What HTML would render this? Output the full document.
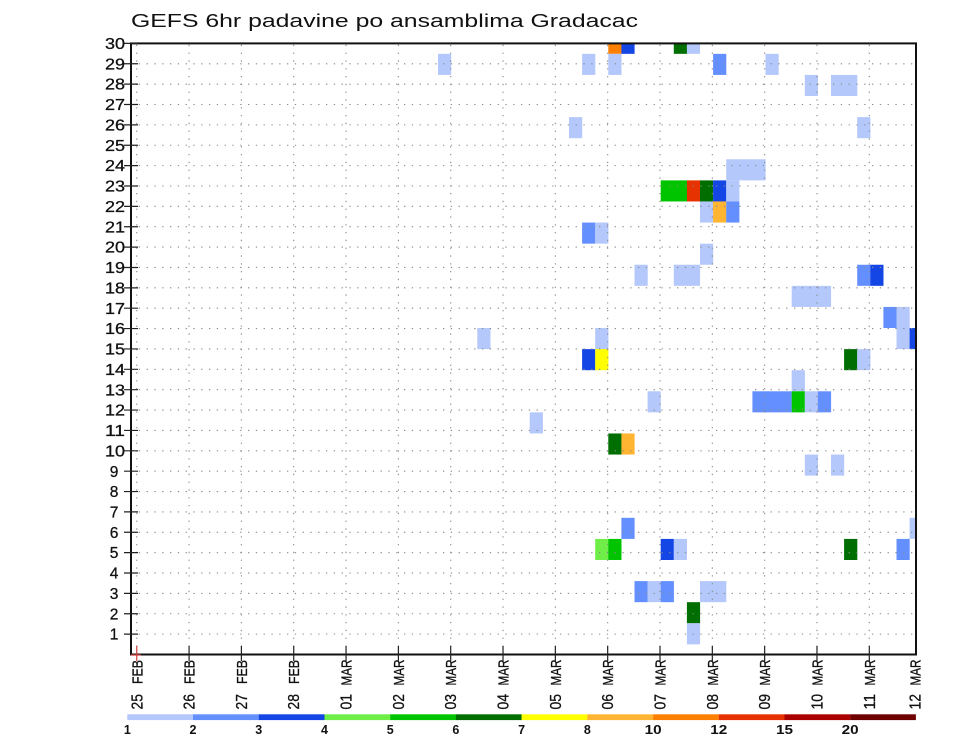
<!DOCTYPE html>
<html><head><meta charset="utf-8"><style>
html,body{margin:0;padding:0;background:#fff;}
svg{display:block;}
text{font-family:"Liberation Sans",sans-serif;fill:#111;}
</style></head><body>
<svg width="960" height="742" viewBox="0 0 960 742" xmlns="http://www.w3.org/2000/svg">
<rect width="960" height="742" fill="#fff"/>
<text x="131" y="27" font-size="18" textLength="507" lengthAdjust="spacingAndGlyphs">GEFS 6hr padavine po ansamblima Gradacac</text>
<defs><clipPath id="pa"><rect x="131" y="43.4" width="785" height="611.1"/></clipPath></defs>
<g clip-path="url(#pa)">
<rect x="608.3" y="32.75" width="13.2" height="21.09" fill="#ff8000"/>
<rect x="621.4" y="32.75" width="13.2" height="21.09" fill="#1446e6"/>
<rect x="673.8" y="32.75" width="13.2" height="21.09" fill="#006e00"/>
<rect x="686.9" y="32.75" width="13.2" height="21.09" fill="#b4c8fc"/>
<rect x="438.0" y="53.84" width="13.2" height="21.09" fill="#b4c8fc"/>
<rect x="582.1" y="53.84" width="13.2" height="21.09" fill="#b4c8fc"/>
<rect x="608.3" y="53.84" width="13.2" height="21.09" fill="#b4c8fc"/>
<rect x="713.1" y="53.84" width="13.2" height="21.09" fill="#6490ff"/>
<rect x="765.5" y="53.84" width="13.2" height="21.09" fill="#b4c8fc"/>
<rect x="804.8" y="74.93" width="13.2" height="21.09" fill="#b4c8fc"/>
<rect x="831.0" y="74.93" width="26.3" height="21.09" fill="#b4c8fc"/>
<rect x="569.0" y="117.11" width="13.2" height="21.09" fill="#b4c8fc"/>
<rect x="857.2" y="117.11" width="13.2" height="21.09" fill="#b4c8fc"/>
<rect x="726.2" y="159.29" width="39.4" height="21.09" fill="#b4c8fc"/>
<rect x="660.7" y="180.38" width="26.3" height="21.09" fill="#00c400"/>
<rect x="686.9" y="180.38" width="13.2" height="21.09" fill="#e63200"/>
<rect x="700.0" y="180.38" width="13.2" height="21.09" fill="#006e00"/>
<rect x="713.1" y="180.38" width="13.2" height="21.09" fill="#1446e6"/>
<rect x="726.2" y="180.38" width="13.2" height="21.09" fill="#b4c8fc"/>
<rect x="700.0" y="201.47" width="13.2" height="21.09" fill="#b4c8fc"/>
<rect x="713.1" y="201.47" width="13.2" height="21.09" fill="#ffb432"/>
<rect x="726.2" y="201.47" width="13.2" height="21.09" fill="#6490ff"/>
<rect x="582.1" y="222.56" width="13.2" height="21.09" fill="#6490ff"/>
<rect x="595.2" y="222.56" width="13.2" height="21.09" fill="#b4c8fc"/>
<rect x="700.0" y="243.65" width="13.2" height="21.09" fill="#b4c8fc"/>
<rect x="634.5" y="264.74" width="13.2" height="21.09" fill="#b4c8fc"/>
<rect x="673.8" y="264.74" width="26.3" height="21.09" fill="#b4c8fc"/>
<rect x="857.2" y="264.74" width="13.2" height="21.09" fill="#6490ff"/>
<rect x="870.3" y="264.74" width="13.2" height="21.09" fill="#1446e6"/>
<rect x="791.7" y="285.83" width="39.4" height="21.09" fill="#b4c8fc"/>
<rect x="883.4" y="306.92" width="13.2" height="21.09" fill="#6490ff"/>
<rect x="896.5" y="306.92" width="13.2" height="21.09" fill="#b4c8fc"/>
<rect x="477.3" y="328.01" width="13.2" height="21.09" fill="#b4c8fc"/>
<rect x="595.2" y="328.01" width="13.2" height="21.09" fill="#b4c8fc"/>
<rect x="896.5" y="328.01" width="13.2" height="21.09" fill="#b4c8fc"/>
<rect x="909.6" y="328.01" width="13.2" height="21.09" fill="#1446e6"/>
<rect x="582.1" y="349.1" width="13.2" height="21.09" fill="#1446e6"/>
<rect x="595.2" y="349.1" width="13.2" height="21.09" fill="#ffff00"/>
<rect x="844.1" y="349.1" width="13.2" height="21.09" fill="#006e00"/>
<rect x="857.2" y="349.1" width="13.2" height="21.09" fill="#b4c8fc"/>
<rect x="791.7" y="370.19" width="13.2" height="21.09" fill="#b4c8fc"/>
<rect x="647.6" y="391.28" width="13.2" height="21.09" fill="#b4c8fc"/>
<rect x="752.4" y="391.28" width="39.4" height="21.09" fill="#6490ff"/>
<rect x="791.7" y="391.28" width="13.2" height="21.09" fill="#00c400"/>
<rect x="804.8" y="391.28" width="13.2" height="21.09" fill="#b4c8fc"/>
<rect x="817.9" y="391.28" width="13.2" height="21.09" fill="#6490ff"/>
<rect x="529.7" y="412.37" width="13.2" height="21.09" fill="#b4c8fc"/>
<rect x="608.3" y="433.46" width="13.2" height="21.09" fill="#006e00"/>
<rect x="621.4" y="433.46" width="13.2" height="21.09" fill="#ffb432"/>
<rect x="804.8" y="454.55" width="13.2" height="21.09" fill="#b4c8fc"/>
<rect x="831.0" y="454.55" width="13.2" height="21.09" fill="#b4c8fc"/>
<rect x="621.4" y="517.82" width="13.2" height="21.09" fill="#6490ff"/>
<rect x="909.6" y="517.82" width="13.2" height="21.09" fill="#b4c8fc"/>
<rect x="595.2" y="538.91" width="13.2" height="21.09" fill="#6eee46"/>
<rect x="608.3" y="538.91" width="13.2" height="21.09" fill="#00c400"/>
<rect x="660.7" y="538.91" width="13.2" height="21.09" fill="#1446e6"/>
<rect x="673.8" y="538.91" width="13.2" height="21.09" fill="#b4c8fc"/>
<rect x="844.1" y="538.91" width="13.2" height="21.09" fill="#006e00"/>
<rect x="896.5" y="538.91" width="13.2" height="21.09" fill="#6490ff"/>
<rect x="634.5" y="581.09" width="13.2" height="21.09" fill="#6490ff"/>
<rect x="647.6" y="581.09" width="13.2" height="21.09" fill="#b4c8fc"/>
<rect x="660.7" y="581.09" width="13.2" height="21.09" fill="#6490ff"/>
<rect x="700.0" y="581.09" width="26.3" height="21.09" fill="#b4c8fc"/>
<rect x="686.9" y="602.18" width="13.2" height="21.09" fill="#006e00"/>
<rect x="686.9" y="623.27" width="13.2" height="21.09" fill="#b4c8fc"/>
</g>
<g stroke="#8a8a8a" stroke-width="1.1" stroke-dasharray="1.3 6.5" fill="none">
<path d="M131 634.13H916M131 613.76H916M131 593.39H916M131 573.02H916M131 552.65H916M131 532.28H916M131 511.91H916M131 491.54H916M131 471.17H916M131 450.8H916M131 430.43H916M131 410.06H916M131 389.69H916M131 369.32H916M131 348.95H916M131 328.58H916M131 308.21H916M131 287.84H916M131 267.47H916M131 247.1H916M131 226.73H916M131 206.36H916M131 185.99H916M131 165.62H916M131 145.25H916M131 124.88H916M131 104.51H916M131 84.14H916M131 63.77H916"/>
<path d="M136.75 654.5V43.4M189.08 654.5V43.4M241.4 654.5V43.4M293.73 654.5V43.4M346.05 654.5V43.4M398.38 654.5V43.4M450.7 654.5V43.4M503.03 654.5V43.4M555.35 654.5V43.4M607.68 654.5V43.4M660 654.5V43.4M712.33 654.5V43.4M764.65 654.5V43.4M816.98 654.5V43.4M869.3 654.5V43.4"/>
</g>
<rect x="131" y="43.4" width="785" height="611.1" fill="none" stroke="#111" stroke-width="2"/>
<g stroke="#222" stroke-width="1.2">
<path d="M124 634.13H138M124 613.76H138M124 593.39H138M124 573.02H138M124 552.65H138M124 532.28H138M124 511.91H138M124 491.54H138M124 471.17H138M124 450.8H138M124 430.43H138M124 410.06H138M124 389.69H138M124 369.32H138M124 348.95H138M124 328.58H138M124 308.21H138M124 287.84H138M124 267.47H138M124 247.1H138M124 226.73H138M124 206.36H138M124 185.99H138M124 165.62H138M124 145.25H138M124 124.88H138M124 104.51H138M124 84.14H138M124 63.77H138M124 43.4H138"/>
<path d="M189.08 646V661M241.4 646V661M293.73 646V661M346.05 646V661M398.38 646V661M450.7 646V661M503.03 646V661M555.35 646V661M607.68 646V661M660 646V661M712.33 646V661M764.65 646V661M816.98 646V661M869.3 646V661"/>
</g>
<path d="M136.75 646V661M131 655H141" stroke="#d04040" stroke-width="1.2"/>
<g font-size="15.5" text-anchor="middle" stroke="#111" stroke-width="0.3">
<text x="114" y="639.7">1</text>
<text x="114" y="619.3">2</text>
<text x="114" y="599">3</text>
<text x="114" y="578.6">4</text>
<text x="114" y="558.2">5</text>
<text x="114" y="537.9">6</text>
<text x="114" y="517.5">7</text>
<text x="114" y="497.1">8</text>
<text x="114" y="476.8">9</text>
<text x="115" y="456.4" textLength="20" lengthAdjust="spacingAndGlyphs">10</text>
<text x="115" y="436" textLength="20" lengthAdjust="spacingAndGlyphs">11</text>
<text x="115" y="415.7" textLength="20" lengthAdjust="spacingAndGlyphs">12</text>
<text x="115" y="395.3" textLength="20" lengthAdjust="spacingAndGlyphs">13</text>
<text x="115" y="374.9" textLength="20" lengthAdjust="spacingAndGlyphs">14</text>
<text x="115" y="354.5" textLength="20" lengthAdjust="spacingAndGlyphs">15</text>
<text x="115" y="334.2" textLength="20" lengthAdjust="spacingAndGlyphs">16</text>
<text x="115" y="313.8" textLength="20" lengthAdjust="spacingAndGlyphs">17</text>
<text x="115" y="293.4" textLength="20" lengthAdjust="spacingAndGlyphs">18</text>
<text x="115" y="273.1" textLength="20" lengthAdjust="spacingAndGlyphs">19</text>
<text x="115" y="252.7" textLength="20" lengthAdjust="spacingAndGlyphs">20</text>
<text x="115" y="232.3" textLength="20" lengthAdjust="spacingAndGlyphs">21</text>
<text x="115" y="212" textLength="20" lengthAdjust="spacingAndGlyphs">22</text>
<text x="115" y="191.6" textLength="20" lengthAdjust="spacingAndGlyphs">23</text>
<text x="115" y="171.2" textLength="20" lengthAdjust="spacingAndGlyphs">24</text>
<text x="115" y="150.9" textLength="20" lengthAdjust="spacingAndGlyphs">25</text>
<text x="115" y="130.5" textLength="20" lengthAdjust="spacingAndGlyphs">26</text>
<text x="115" y="110.1" textLength="20" lengthAdjust="spacingAndGlyphs">27</text>
<text x="115" y="89.7" textLength="20" lengthAdjust="spacingAndGlyphs">28</text>
<text x="115" y="69.4" textLength="20" lengthAdjust="spacingAndGlyphs">29</text>
<text x="115" y="49" textLength="20" lengthAdjust="spacingAndGlyphs">30</text>
</g>
<g font-size="15.5" stroke="#111" stroke-width="0.3">
<text transform="translate(142.3,709.5) rotate(-90)" textLength="15.5" lengthAdjust="spacingAndGlyphs">25</text>
<text transform="translate(194.6,709.5) rotate(-90)" textLength="15.5" lengthAdjust="spacingAndGlyphs">26</text>
<text transform="translate(246.9,709.5) rotate(-90)" textLength="15.5" lengthAdjust="spacingAndGlyphs">27</text>
<text transform="translate(299.2,709.5) rotate(-90)" textLength="15.5" lengthAdjust="spacingAndGlyphs">28</text>
<text transform="translate(351.6,709.5) rotate(-90)" textLength="15.5" lengthAdjust="spacingAndGlyphs">01</text>
<text transform="translate(403.9,709.5) rotate(-90)" textLength="15.5" lengthAdjust="spacingAndGlyphs">02</text>
<text transform="translate(456.2,709.5) rotate(-90)" textLength="15.5" lengthAdjust="spacingAndGlyphs">03</text>
<text transform="translate(508.5,709.5) rotate(-90)" textLength="15.5" lengthAdjust="spacingAndGlyphs">04</text>
<text transform="translate(560.9,709.5) rotate(-90)" textLength="15.5" lengthAdjust="spacingAndGlyphs">05</text>
<text transform="translate(613.2,709.5) rotate(-90)" textLength="15.5" lengthAdjust="spacingAndGlyphs">06</text>
<text transform="translate(665.5,709.5) rotate(-90)" textLength="15.5" lengthAdjust="spacingAndGlyphs">07</text>
<text transform="translate(717.8,709.5) rotate(-90)" textLength="15.5" lengthAdjust="spacingAndGlyphs">08</text>
<text transform="translate(770.2,709.5) rotate(-90)" textLength="15.5" lengthAdjust="spacingAndGlyphs">09</text>
<text transform="translate(822.5,709.5) rotate(-90)" textLength="15.5" lengthAdjust="spacingAndGlyphs">10</text>
<text transform="translate(874.8,709.5) rotate(-90)" textLength="15.5" lengthAdjust="spacingAndGlyphs">11</text>
<text transform="translate(920.5,709.5) rotate(-90)" textLength="15.5" lengthAdjust="spacingAndGlyphs">12</text>
</g>
<g font-size="15" stroke="#111" stroke-width="0.3">
<text transform="translate(142.3,684) rotate(-90)" textLength="24" lengthAdjust="spacingAndGlyphs">FEB</text>
<text transform="translate(194.6,684) rotate(-90)" textLength="24" lengthAdjust="spacingAndGlyphs">FEB</text>
<text transform="translate(246.9,684) rotate(-90)" textLength="24" lengthAdjust="spacingAndGlyphs">FEB</text>
<text transform="translate(299.2,684) rotate(-90)" textLength="24" lengthAdjust="spacingAndGlyphs">FEB</text>
<text transform="translate(351.6,685.5) rotate(-90)" textLength="26" lengthAdjust="spacingAndGlyphs">MAR</text>
<text transform="translate(403.9,685.5) rotate(-90)" textLength="26" lengthAdjust="spacingAndGlyphs">MAR</text>
<text transform="translate(456.2,685.5) rotate(-90)" textLength="26" lengthAdjust="spacingAndGlyphs">MAR</text>
<text transform="translate(508.5,685.5) rotate(-90)" textLength="26" lengthAdjust="spacingAndGlyphs">MAR</text>
<text transform="translate(560.9,685.5) rotate(-90)" textLength="26" lengthAdjust="spacingAndGlyphs">MAR</text>
<text transform="translate(613.2,685.5) rotate(-90)" textLength="26" lengthAdjust="spacingAndGlyphs">MAR</text>
<text transform="translate(665.5,685.5) rotate(-90)" textLength="26" lengthAdjust="spacingAndGlyphs">MAR</text>
<text transform="translate(717.8,685.5) rotate(-90)" textLength="26" lengthAdjust="spacingAndGlyphs">MAR</text>
<text transform="translate(770.2,685.5) rotate(-90)" textLength="26" lengthAdjust="spacingAndGlyphs">MAR</text>
<text transform="translate(822.5,685.5) rotate(-90)" textLength="26" lengthAdjust="spacingAndGlyphs">MAR</text>
<text transform="translate(874.8,685.5) rotate(-90)" textLength="26" lengthAdjust="spacingAndGlyphs">MAR</text>
<text transform="translate(920.5,685.5) rotate(-90)" textLength="26" lengthAdjust="spacingAndGlyphs">MAR</text>
</g>
<g>
<rect x="127.3" y="714.3" width="65.8" height="5.8" fill="#b4c8fc"/>
<rect x="193.0" y="714.3" width="65.8" height="5.8" fill="#6490ff"/>
<rect x="258.7" y="714.3" width="65.8" height="5.8" fill="#1446e6"/>
<rect x="324.5" y="714.3" width="65.8" height="5.8" fill="#6eee46"/>
<rect x="390.2" y="714.3" width="65.8" height="5.8" fill="#00c400"/>
<rect x="455.9" y="714.3" width="65.8" height="5.8" fill="#006e00"/>
<rect x="521.6" y="714.3" width="65.8" height="5.8" fill="#ffff00"/>
<rect x="587.3" y="714.3" width="65.8" height="5.8" fill="#ffb432"/>
<rect x="653.1" y="714.3" width="65.8" height="5.8" fill="#ff8000"/>
<rect x="718.8" y="714.3" width="65.8" height="5.8" fill="#e63200"/>
<rect x="784.5" y="714.3" width="65.8" height="5.8" fill="#aa0000"/>
<rect x="850.2" y="714.3" width="65.7" height="5.8" fill="#6e0000"/>
</g>
<g font-size="12.5" font-weight="bold" text-anchor="middle">
<text x="127.3" y="734">1</text>
<text x="193.0" y="734">2</text>
<text x="258.7" y="734">3</text>
<text x="324.5" y="734">4</text>
<text x="390.2" y="734">5</text>
<text x="455.9" y="734">6</text>
<text x="521.6" y="734">7</text>
<text x="587.3" y="734">8</text>
<text x="653.1" y="734" textLength="17" lengthAdjust="spacingAndGlyphs">10</text>
<text x="718.8" y="734" textLength="17" lengthAdjust="spacingAndGlyphs">12</text>
<text x="784.5" y="734" textLength="17" lengthAdjust="spacingAndGlyphs">15</text>
<text x="850.2" y="734" textLength="17" lengthAdjust="spacingAndGlyphs">20</text>
</g>
</svg>
</body></html>
